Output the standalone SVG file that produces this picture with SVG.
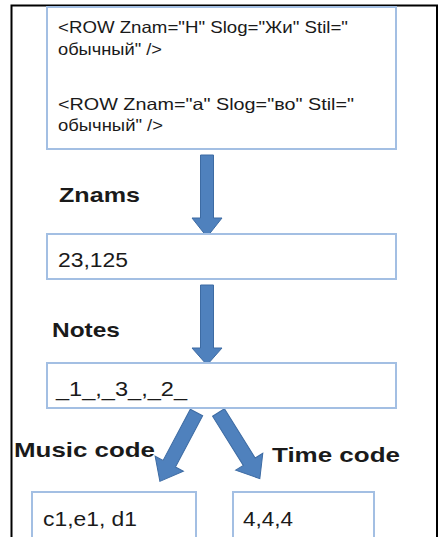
<svg xmlns="http://www.w3.org/2000/svg" width="440" height="537" viewBox="0 0 440 537">
<style>
.box{fill:#ffffff;stroke:#a3bfe3;stroke-width:2}
.arr{fill:#4f81bd;stroke:#3d6ba3;stroke-width:1}
.t{font-family:"Liberation Sans",Arial,sans-serif;fill:#1a1a1a}
.x{font-size:16.5px}
.v{font-size:20px}
.lb{font-size:21px;font-weight:bold}
</style>
<defs>
<path id="darr" d="M-7,0 H7 V58 H16 L0,78 L-16,58 H-7 Z"/>
</defs>
<rect x="0" y="0" width="440" height="537" fill="#ffffff"/>
<path d="M11.5,545 V5.5 H437 V545" fill="none" stroke="#000000" stroke-width="2"/>
<g id="connectors">
<path class="arr" d="M200.5,155 H213.5 V218 H222 L207,237 L192,218 H200.5 Z"/>
<path class="arr" d="M200.5,285 H213.5 V348 H222 L207,365 L192,348 H200.5 Z"/>
<use class="arr" href="#darr" transform="translate(196.5,412.5) rotate(28)"/>
<use class="arr" href="#darr" transform="translate(218.5,412.5) rotate(-32)"/>
</g>
<g id="node-xml">
<rect class="box" x="47" y="7" width="349" height="142"/>
<text class="t x" x="58" y="33" textLength="290" lengthAdjust="spacingAndGlyphs">&lt;ROW Znam="H" Slog="Жи" Stil="</text>
<text class="t x" x="58" y="55" textLength="104" lengthAdjust="spacingAndGlyphs">обычный" /&gt;</text>
<text class="t x" x="58" y="110" textLength="296" lengthAdjust="spacingAndGlyphs">&lt;ROW Znam="a" Slog="во" Stil="</text>
<text class="t x" x="58" y="131" textLength="105" lengthAdjust="spacingAndGlyphs">обычный" /&gt;</text>
</g>
<g id="label-znams">
<text class="t lb" x="59" y="202" textLength="81" lengthAdjust="spacingAndGlyphs">Znams</text>
</g>
<g id="node-znams">
<rect class="box" x="47" y="234" width="349" height="45"/>
<text class="t v" x="58" y="267" textLength="70" lengthAdjust="spacingAndGlyphs">23,125</text>
</g>
<g id="label-notes">
<text class="t lb" x="52" y="337" textLength="68" lengthAdjust="spacingAndGlyphs">Notes</text>
</g>
<g id="node-notes">
<rect class="box" x="47" y="363" width="349" height="45"/>
<text class="t v" x="56" y="396" textLength="131" lengthAdjust="spacingAndGlyphs">_1_,_3_,_2_</text>
</g>
<g id="label-music">
<text class="t lb" x="14" y="457" textLength="141" lengthAdjust="spacingAndGlyphs">Music code</text>
</g>
<g id="label-time">
<text class="t lb" x="272" y="462" textLength="128" lengthAdjust="spacingAndGlyphs">Time code</text>
</g>
<g id="node-music">
<rect class="box" x="32" y="492" width="164" height="60"/>
<text class="t v" x="43" y="526" textLength="94" lengthAdjust="spacingAndGlyphs">c1,e1, d1</text>
</g>
<g id="node-time">
<rect class="box" x="233" y="492" width="141" height="60"/>
<text class="t v" x="243" y="526" textLength="50" lengthAdjust="spacingAndGlyphs">4,4,4</text>
</g>
</svg>
